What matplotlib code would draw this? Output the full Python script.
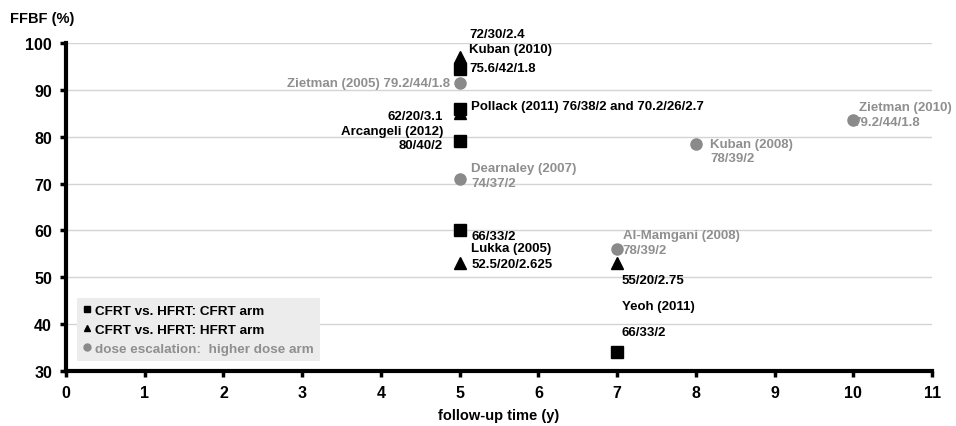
import matplotlib
matplotlib.use("Agg")
import matplotlib.pyplot as plt
from matplotlib.lines import Line2D

plt.rcParams['font.family'] = ['Liberation Sans', 'DejaVu Sans']
plt.rcParams['font.weight'] = 'bold'

# CFRT vs. HFRT trials: conventional arm (squares)
cfrt_years = [5, 5, 5, 5, 7]
cfrt_ffbf = [94.5, 86, 79, 60, 34]

# CFRT vs. HFRT trials: hypofractionated arm (triangles)
hfrt_years = [5, 5, 5, 7]
hfrt_ffbf = [97, 85, 53, 53]

# dose escalation trials: higher dose arm (circles)
esc_years = [5, 5, 7, 8, 10]
esc_ffbf = [91.5, 71, 56, 78.5, 83.5]

BLACK = '#000000'
GRAY = '#8a8a8a'
GRAY_TXT = '#8f8f8f'

fig = plt.figure(figsize=(9.56, 4.27), dpi=100)
ax = fig.add_axes([0.069, 0.129, 0.906, 0.768])

ax.set_xlim(0, 11)
ax.set_ylim(30, 100)
ax.set_xticks(range(0, 12))
ax.set_yticks(range(30, 101, 10))
ax.yaxis.grid(True, color='#d4d4d4', linewidth=1.0)
ax.set_axisbelow(True)
for s in ['top', 'right']:
    ax.spines[s].set_visible(False)
ax.spines['left'].set_linewidth(3)
ax.spines['bottom'].set_linewidth(3)
ax.tick_params(axis='both', direction='out', length=4, width=2.5,
               labelsize=11.5, pad=6)
for lab in ax.get_xticklabels() + ax.get_yticklabels():
    lab.set_fontweight('bold')

ax.plot(esc_years, esc_ffbf, 'o', color=GRAY, markersize=8, clip_on=False, zorder=3)
ax.plot(cfrt_years, cfrt_ffbf, 's', color=BLACK, markersize=8.5, clip_on=False, zorder=4)
ax.plot(hfrt_years, hfrt_ffbf, '^', color=BLACK, markersize=8.5, clip_on=False, zorder=4)

fs = 9.5
def note(x, y, s, color=BLACK, ha='left'):
    ax.text(x, y, s, color=color, ha=ha, va='center', fontsize=fs,
            fontweight='bold', clip_on=False)

# labels for trials at 5 years
note(5.12, 102.0, '72/30/2.4')
note(5.12, 98.7, 'Kuban (2010)')
note(5.12, 94.7, '75.6/42/1.8')
note(4.88, 91.5, 'Zietman (2005) 79.2/44/1.8', color=GRAY_TXT, ha='right')
note(5.15, 86.6, 'Pollack (2011) 76/38/2 and 70.2/26/2.7')
note(4.79, 84.4, '62/20/3.1', ha='right')
note(4.79, 81.2, 'Arcangeli (2012)', ha='right')
note(4.79, 78.2, '80/40/2', ha='right')
note(5.15, 73.3, 'Dearnaley (2007)', color=GRAY_TXT)
note(5.15, 70.1, '74/37/2', color=GRAY_TXT)
note(5.15, 58.8, '66/33/2')
note(5.15, 56.2, 'Lukka (2005)')
note(5.15, 52.8, '52.5/20/2.625')

# labels for trials at 7 years and beyond
note(7.07, 59.1, 'Al-Mamgani (2008)', color=GRAY_TXT)
note(7.07, 55.9, '78/39/2', color=GRAY_TXT)
note(7.06, 49.5, '55/20/2.75')
note(7.06, 43.9, 'Yeoh (2011)')
note(7.06, 38.4, '66/33/2')
note(8.18, 78.5, 'Kuban (2008)', color=GRAY_TXT)
note(8.18, 75.5, '78/39/2', color=GRAY_TXT)
note(10.07, 86.4, 'Zietman (2010)', color=GRAY_TXT)
note(10.0, 83.2, '79.2/44/1.8', color=GRAY_TXT)

handles = [
    Line2D([], [], marker='s', color=BLACK, linestyle='none', markersize=5),
    Line2D([], [], marker='^', color=BLACK, linestyle='none', markersize=5),
    Line2D([], [], marker='o', color=GRAY, linestyle='none', markersize=5),
]
labels = ['CFRT vs. HFRT: CFRT arm', 'CFRT vs. HFRT: HFRT arm',
          'dose escalation:  higher dose arm']
leg = ax.legend(handles, labels, loc='lower left', bbox_to_anchor=(0.005, 0.01),
                frameon=True, fancybox=False, facecolor='#ececec',
                edgecolor='none', framealpha=1,
                handlelength=0.6, handletextpad=0.3, labelspacing=0.5,
                borderpad=0.45, prop={'weight': 'bold', 'size': 9.7})
leg.get_texts()[2].set_color(GRAY_TXT)

fig.text(0.010, 0.955, 'FFBF (%)', fontsize=10.5, fontweight='bold',
         ha='left', va='center')
ax.set_xlabel('follow-up time (y)', fontsize=10.5, fontweight='bold', labelpad=6)

fig.savefig('out.png', dpi=100, facecolor='white')
